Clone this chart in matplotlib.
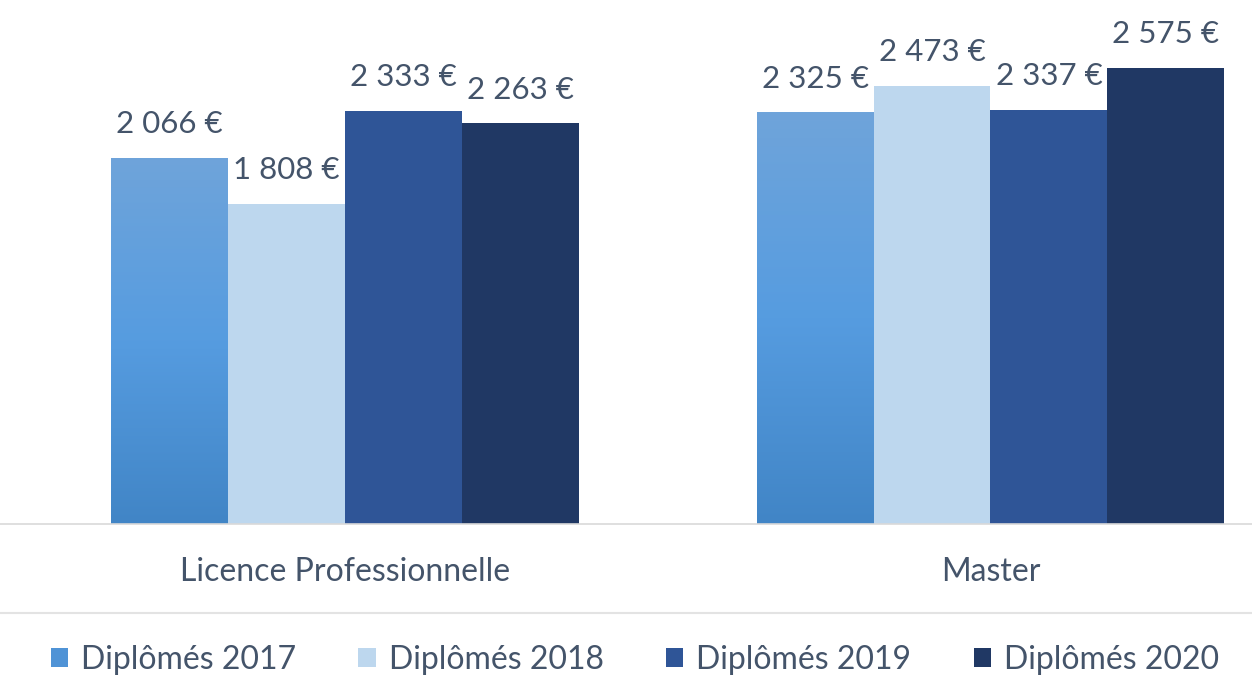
import numpy as np
import matplotlib.pyplot as plt
from matplotlib.patches import Patch
from matplotlib.lines import Line2D
from matplotlib.colors import LinearSegmentedColormap

plt.rcParams['font.family'] = ['Lato', 'DejaVu Sans']

categories = ['Licence Professionnelle', 'Master']
series = ['Diplômés 2017', 'Diplômés 2018', 'Diplômés 2019', 'Diplômés 2020']
values = {
    'Diplômés 2017': [2066, 2325],
    'Diplômés 2018': [1808, 2473],
    'Diplômés 2019': [2333, 2337],
    'Diplômés 2020': [2263, 2575],
}
colors = ['#5b9bd5', '#bdd7ee', '#2f5597', '#203864']
text_color = '#44546a'

# 2017 bars use a vertical gradient fill
grad = LinearSegmentedColormap.from_list('g17', ['#4185c6', '#569ce0', '#6fa4da'])

fig = plt.figure(figsize=(12.52, 6.98), dpi=100)
ax = fig.add_axes([0, 0.2493, 1, 0.7507])

x = np.arange(len(categories))
width = 0.181
for i, s in enumerate(series):
    pos = x + (i - 1.5) * width
    bars = ax.bar(pos, values[s], width, color=colors[i], linewidth=0, zorder=2)
    if i == 0:
        for b in bars:
            b.set_facecolor('none')
            x0, w, h = b.get_x(), b.get_width(), b.get_height()
            img = ax.imshow(np.linspace(0, 1, 256).reshape(-1, 1), cmap=grad,
                            extent=[x0, x0 + w, 0, h], origin='lower',
                            aspect='auto', zorder=1.5)
            img.set_clip_path(b)
    for p, v in zip(pos, values[s]):
        label = f'{v:,} €'.replace(',', ' ')
        ax.annotate(label, (p, v), xytext=(0, 14), textcoords='offset points',
                    ha='center', va='bottom', fontsize=22.5, color=text_color)

ax.set_xlim(-0.534, 1.405)
ax.set_ylim(0, 2957)
ax.set_yticks([])
ax.set_xticks(x)
ax.set_xticklabels(categories, fontsize=23, color=text_color)
ax.tick_params(axis='x', length=0, pad=24)
for side in ['top', 'right', 'left']:
    ax.spines[side].set_visible(False)
ax.spines['bottom'].set_color('#d9d9d9')
ax.spines['bottom'].set_linewidth(1.2)

# separator above the legend
fig.add_artist(Line2D([0, 1], [1 - 613 / 698, 1 - 613 / 698], color='#e3e3e3',
                      linewidth=1.5, transform=fig.transFigure))

handles = [Patch(facecolor=c, edgecolor='none') for c in colors]
handles[0] = Patch(facecolor='#4f93d6', edgecolor='none')
fig.legend(handles, series, loc='center', bbox_to_anchor=(0.507, 1 - 660 / 698),
           ncol=4, frameon=False, fontsize=23, labelcolor=text_color,
           handlelength=0.55, handleheight=0.55, handletextpad=0.4,
           columnspacing=1.95)

fig.savefig('out.png', dpi=100)
